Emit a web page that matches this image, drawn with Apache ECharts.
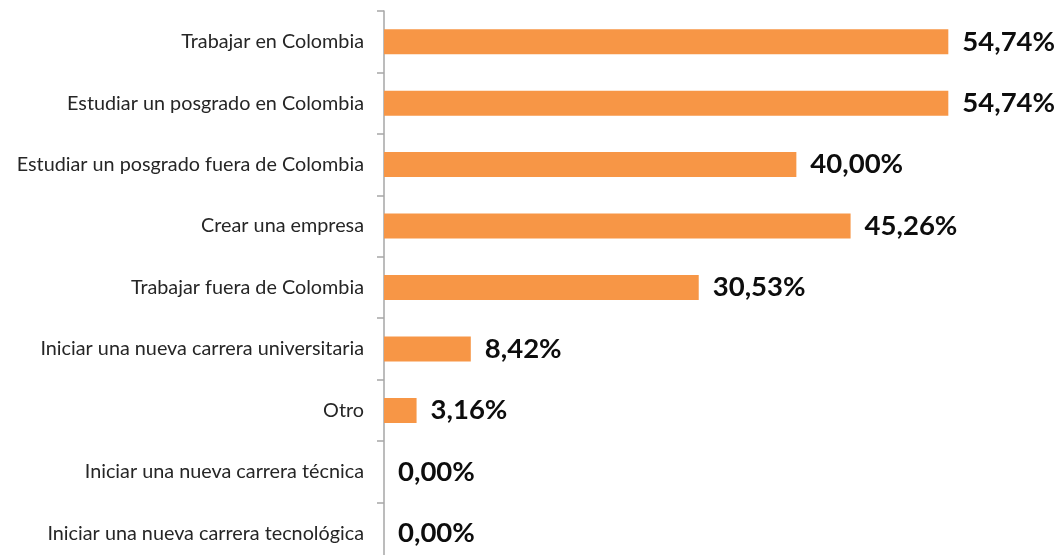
<!DOCTYPE html>
<html><head><meta charset="utf-8">
<script src="https://cdn.jsdelivr.net/npm/echarts@6/dist/echarts.min.js"></script>
<style>html,body{margin:0;padding:0;background:#fff;overflow:hidden}#c{width:1058px;height:580px}</style>
</head><body><div id="c"></div>
<script>
const categories = [
  "Trabajar en Colombia",
  "Estudiar un posgrado en Colombia",
  "Estudiar un posgrado fuera de Colombia",
  "Crear una empresa",
  "Trabajar fuera de Colombia",
  "Iniciar una nueva carrera universitaria",
  "Otro",
  "Iniciar una nueva carrera técnica",
  "Iniciar una nueva carrera tecnológica"
];
const values = [54.74, 54.74, 40.00, 45.26, 30.53, 8.42, 3.16, 0.00, 0.00];

const chart = echarts.init(document.getElementById('c'), null, {renderer: 'canvas'});
chart.setOption({
  animation: false,
  grid: {left: 384, top: 11, width: 617, height: 553},
  xAxis: {type: 'value', min: 0, max: 59.85, show: false},
  yAxis: {
    type: 'category', data: categories, inverse: true,
    axisLine: {show: true, lineStyle: {color: '#a6a6a6', width: 1.5}},
    axisTick: {show: true, length: 7, lineStyle: {color: '#a6a6a6', width: 1.5}},
    axisLabel: {margin: 20, color: '#262626', fontFamily: 'Lato', fontSize: 19.8}
  },
  series: [{
    type: 'bar', data: values, barWidth: 25,
    itemStyle: {color: '#F79646'},
    label: {
      show: true, position: 'right', distance: 14,
      formatter: p => p.value.toFixed(2).replace('.', ',') + '%',
      fontFamily: 'Lato', fontWeight: 'bold', fontSize: 27.5, color: '#0d0d0d'
    }
  }]
});
</script></body></html>
